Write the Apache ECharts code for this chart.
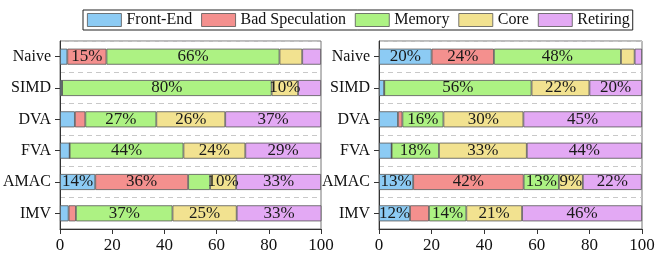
<!DOCTYPE html>
<html>
<head>
<meta charset="utf-8">
<script src="https://cdn.jsdelivr.net/npm/echarts@6/dist/echarts.min.js"></script>
<style>
  html, body { margin: 0; padding: 0; background: #fff; }
  #chart { width: 665px; height: 256px; }
</style>
</head>
<body>
<div id="chart"></div>
<script>
var categories = ['Naive', 'SIMD', 'DVA', 'FVA', 'AMAC', 'IMV'];
var seriesNames = ['Front-End', 'Bad Speculation', 'Memory', 'Core', 'Retiring'];
var xTicks = [0, 20, 40, 60, 80, 100];

// left panel
var frontEndL = [2.8, 0.8, 5.7, 3.7, 13.5, 3.3];
var badSpecL  = [15, 0, 4, 0, 35.6, 2.8];
var memoryL   = [66.3, 80.3, 27.2, 43.6, 8.4, 37];
var coreL     = [8.7, 10.1, 26.4, 23.7, 10, 24.6];
var retiringL = [7.2, 8.8, 36.7, 29, 32.5, 32.6];

// right panel
var frontEndR = [20, 2, 7.2, 4.8, 13, 11.8];
var badSpecR  = [23.7, 0, 1.7, 0, 42, 7.2];
var memoryR   = [48.3, 56, 15.6, 18, 13.4, 14.2];
var coreR     = [5.2, 22, 30.4, 33.4, 9.1, 21.2];
var retiringR = [2.8, 20, 45.1, 43.8, 22.4, 45.6];

var colors = ['#8ccbf4', '#f4908e', '#adf283', '#f2e290', '#e3a9f4'];
var font = 'Liberation Serif';

var chart = echarts.init(document.getElementById('chart'));

function makeX(idx) {
    return {
        type: 'value', gridIndex: idx, min: 0, max: 100, interval: 20,
        axisLine: { show: true, lineStyle: { color: '#333' } },
        axisTick: { show: true, length: 5, lineStyle: { color: '#333' } },
        axisLabel: { fontFamily: font, fontSize: 17, color: '#111', margin: 8,
            formatter: function (v) { return xTicks.indexOf(v) >= 0 ? String(v) : ''; } },
        splitLine: { show: false }
    };
}

function makeY(idx) {
    return {
        type: 'category', gridIndex: idx, data: categories, inverse: true,
        axisLine: { show: true, lineStyle: { color: '#333' } },
        axisTick: { show: true, alignWithLabel: true, length: 5, lineStyle: { color: '#333' } },
        axisLabel: { fontFamily: font, fontSize: 16, color: '#111', margin: 9 },
        splitLine: { show: true, lineStyle: { type: [5, 4], color: '#c8c8c8' } }
    };
}

function makeSeries(name, data, idx, color) {
    return {
        name: name, type: 'bar', stack: 'S' + idx,
        xAxisIndex: idx, yAxisIndex: idx,
        data: data, barWidth: 16,
        itemStyle: { color: color, borderColor: '#555', borderWidth: 0.8 },
        label: {
            show: true, position: 'inside',
            fontFamily: font, fontSize: 17, color: '#1a1a1a',
            formatter: function (p) { return p.value >= 9 ? Math.round(p.value) + '%' : ''; }
        }
    };
}

var left = [frontEndL, badSpecL, memoryL, coreL, retiringL];
var right = [frontEndR, badSpecR, memoryR, coreR, retiringR];
var series = [];
for (var i = 0; i < seriesNames.length; i++) {
    series.push(makeSeries(seriesNames[i], left[i], 0, colors[i]));
}
for (var j = 0; j < seriesNames.length; j++) {
    series.push(makeSeries(seriesNames[j], right[j], 1, colors[j]));
}

chart.setOption({
    animation: false,
    color: colors,
    legend: {
        data: seriesNames,
        icon: 'rect',
        left: 83, top: 10,
        itemWidth: 34, itemHeight: 13, itemGap: 9,
        padding: [2, 3, 2, 4],
        borderColor: '#222', borderWidth: 1, borderRadius: 0,
        backgroundColor: '#fff',
        itemStyle: { borderColor: '#555', borderWidth: 0.8 },
        textStyle: { fontFamily: font, fontSize: 16, color: '#111' }
    },
    grid: [
        { left: 58, right: 344, top: 41, bottom: 27, show: true, borderColor: '#777', borderWidth: 1 },
        { left: 379, right: 23, top: 41, bottom: 27, show: true, borderColor: '#777', borderWidth: 1 }
    ],
    xAxis: [makeX(0), makeX(1)],
    yAxis: [makeY(0), makeY(1)],
    series: series
});
</script>
</body>
</html>
